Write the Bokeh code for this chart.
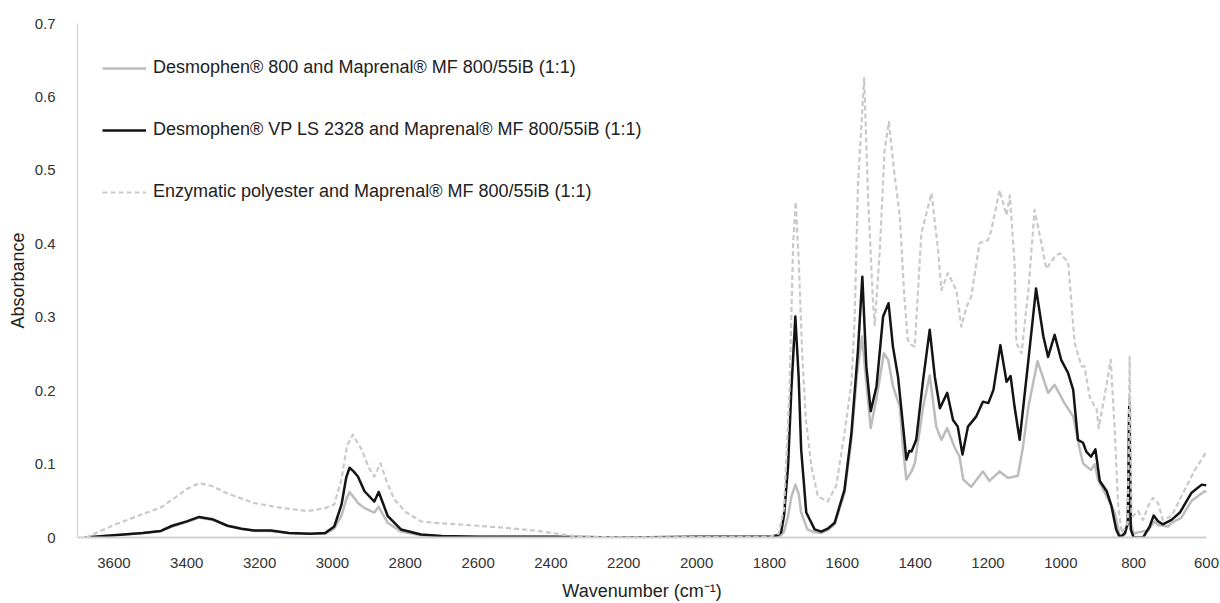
from bokeh.plotting import figure
from bokeh.models import Range1d, FixedTicker, CustomJSTickFormatter, Legend, LegendItem
from bokeh.embed import file_html
from bokeh.resources import INLINE

# ---- data ----
wn_d800 = [3680, 3600, 3520, 3471, 3440, 3400, 3366, 3330, 3288, 3250, 3215, 3169, 3120, 3060, 3020,
           2995, 2975, 2962, 2953, 2942, 2930, 2912, 2885, 2873, 2860, 2848, 2812, 2757, 2700, 2400, 2200, 1800,
           1770, 1760, 1749, 1740, 1729, 1720, 1713, 1696, 1676, 1658, 1640, 1621, 1594, 1575, 1560,
           1546, 1534, 1522, 1506, 1486, 1474, 1461, 1442, 1433, 1424, 1410, 1401, 1378, 1360, 1342,
           1328, 1312, 1291, 1278, 1268, 1246, 1214, 1196, 1168, 1145, 1118, 1105, 1089, 1064, 1035,
           1017, 990, 966, 948, 939, 925, 917, 907, 898, 874, 852, 840, 834, 824, 816, 812, 808, 800,
           788, 760, 743, 733, 705, 696, 669, 641, 605, 600]
abs_d800 = [0.0, 0.003, 0.006, 0.009, 0.015, 0.021, 0.027, 0.024, 0.016, 0.012, 0.009, 0.009, 0.006, 0.005, 0.005,
            0.012, 0.030, 0.052, 0.062, 0.055, 0.047, 0.040, 0.034, 0.042, 0.030, 0.020, 0.008, 0.003, 0.001, 0.001, 0.0, 0.001,
            0.002, 0.008, 0.029, 0.055, 0.072, 0.060, 0.034, 0.011, 0.007, 0.006, 0.010, 0.018, 0.061, 0.133, 0.220,
            0.274, 0.210, 0.149, 0.190, 0.251, 0.242, 0.206, 0.178, 0.120, 0.079, 0.090, 0.101, 0.178, 0.221, 0.151,
            0.133, 0.149, 0.122, 0.110, 0.079, 0.069, 0.090, 0.077, 0.090, 0.081, 0.084, 0.120, 0.178, 0.240, 0.197,
            0.208, 0.183, 0.165, 0.120, 0.101, 0.095, 0.092, 0.100, 0.079, 0.056, 0.034, 0.006, 0.0, 0.004, 0.020, 0.190, 0.020, 0.005,
            0.007, 0.010, 0.022, 0.017, 0.015, 0.020, 0.027, 0.050, 0.063, 0.062]

wn_vp = [3680, 3600, 3520, 3471, 3440, 3400, 3366, 3330, 3288, 3250, 3215, 3169, 3120, 3060, 3020,
         2995, 2975, 2962, 2953, 2942, 2930, 2912, 2885, 2873, 2860, 2848, 2812, 2757, 2700, 2600, 2400, 2200, 2000,
         1800, 1777, 1768, 1760, 1749, 1740, 1729, 1720, 1713, 1699, 1676, 1658, 1640, 1621, 1594, 1575,
         1557, 1545, 1534, 1522, 1506, 1488, 1473, 1461, 1447, 1433, 1424, 1416, 1410, 1397, 1378, 1360,
         1346, 1332, 1312, 1296, 1283, 1270, 1255, 1232, 1214, 1199, 1185, 1166, 1149, 1138, 1127, 1113,
         1089, 1068, 1048, 1035, 1017, 999, 980, 966, 953, 939, 930, 917, 905, 893, 874, 861, 848, 838,
         824, 816, 812, 808, 800, 774, 756, 745, 733, 720, 696, 673, 641, 613, 600]
abs_vp = [0.0, 0.003, 0.006, 0.009, 0.016, 0.022, 0.028, 0.025, 0.016, 0.012, 0.0095, 0.0095, 0.006, 0.005, 0.006,
          0.015, 0.045, 0.082, 0.095, 0.090, 0.083, 0.063, 0.049, 0.062, 0.045, 0.029, 0.011, 0.004, 0.002, 0.001, 0.001, 0.0, 0.001,
          0.001, 0.003, 0.007, 0.030, 0.097, 0.200, 0.301, 0.220, 0.120, 0.034, 0.011, 0.008, 0.012, 0.020, 0.065, 0.142,
          0.255, 0.355, 0.233, 0.172, 0.206, 0.301, 0.319, 0.260, 0.219, 0.151, 0.106, 0.118, 0.117, 0.133, 0.215, 0.283,
          0.219, 0.176, 0.197, 0.160, 0.151, 0.113, 0.151, 0.165, 0.185, 0.183, 0.201, 0.262, 0.212, 0.220, 0.178, 0.133,
          0.242, 0.339, 0.274, 0.246, 0.276, 0.242, 0.224, 0.201, 0.133, 0.129, 0.117, 0.110, 0.120, 0.077, 0.063, 0.043, 0.011, 0.0,
          0.006, 0.020, 0.183, 0.011, 0.0, 0.0, 0.015, 0.030, 0.022, 0.018, 0.024, 0.034, 0.061, 0.072, 0.071]

wn_enz = [3677, 3600, 3520, 3471, 3430, 3400, 3366, 3330, 3288, 3250, 3215, 3150, 3068, 3020, 2995,
          2975, 2960, 2944, 2920, 2900, 2885, 2868, 2850, 2830, 2800, 2757, 2721, 2660, 2601, 2520, 2446,
          2380, 2336, 2300, 2200, 1800, 1775, 1760, 1745, 1735, 1728, 1720, 1710, 1700, 1685, 1667, 1640,
          1617, 1594, 1575, 1566, 1557, 1540, 1529, 1516, 1511, 1497, 1484, 1472, 1458, 1442, 1430, 1420,
          1410, 1401, 1383, 1355, 1337, 1328, 1310, 1287, 1273, 1259, 1246, 1232, 1223, 1200, 1191, 1168,
          1149, 1140, 1127, 1122, 1108, 1089, 1072, 1053, 1040, 1017, 1003, 980, 962, 943, 935, 921, 907,
          902, 896, 880, 863, 852, 843, 833, 816, 811, 806, 802, 788, 774, 760, 747, 733, 720, 696, 669,
          632, 600]
abs_enz = [0.0, 0.017, 0.032, 0.041, 0.055, 0.066, 0.074, 0.070, 0.060, 0.053, 0.047, 0.041, 0.036, 0.040, 0.045,
           0.080, 0.125, 0.140, 0.120, 0.095, 0.083, 0.101, 0.075, 0.052, 0.035, 0.022, 0.020, 0.018, 0.016, 0.013, 0.0095,
           0.005, 0.002, 0.001, 0.0, 0.001, 0.005, 0.040, 0.200, 0.400, 0.457, 0.380, 0.250, 0.160, 0.097, 0.056, 0.049,
           0.070, 0.142, 0.210, 0.300, 0.480, 0.626, 0.459, 0.323, 0.289, 0.391, 0.527, 0.566, 0.500, 0.437, 0.330, 0.269,
           0.262, 0.260, 0.414, 0.469, 0.391, 0.337, 0.360, 0.337, 0.287, 0.314, 0.328, 0.373, 0.401, 0.405, 0.418, 0.473,
           0.439, 0.466, 0.373, 0.265, 0.251, 0.337, 0.446, 0.400, 0.366, 0.382, 0.387, 0.375, 0.265, 0.233, 0.233, 0.192, 0.178,
           0.176, 0.149, 0.192, 0.242, 0.147, 0.047, 0.006, 0.020, 0.246, 0.030, 0.029, 0.036, 0.024, 0.043, 0.054, 0.047, 0.024, 0.029, 0.056,
           0.092, 0.117]

x_ticks = [3600, 3400, 3200, 3000, 2800, 2600, 2400, 2200, 2000, 1800, 1600, 1400, 1200, 1000, 800, 600]
y_ticks = [0, 0.1, 0.2, 0.3, 0.4, 0.5, 0.6, 0.7]
labels = ["Desmophen® 800 and Maprenal® MF 800/55iB (1:1)",
          "Desmophen® VP LS 2328 and Maprenal® MF 800/55iB (1:1)",
          "Enzymatic polyester and Maprenal® MF 800/55iB (1:1)"]

FONT = "Liberation Sans"

p = figure(width=1220, height=603, x_range=Range1d(3700, 600), y_range=Range1d(0, 0.7),
           output_backend="svg", toolbar_location=None,
           min_border_left=77, min_border_right=14, min_border_top=23, min_border_bottom=65)
p.outline_line_color = None
p.grid.visible = False
p.background_fill_color = "white"
p.border_fill_color = "white"

r_gray = p.line(wn_d800, abs_d800, line_color="#bcbcbc", line_width=2.5, line_join="round")
r_black = p.line(wn_vp, abs_vp, line_color="#141414", line_width=2.5, line_join="round")
r_dash = p.line(wn_enz, abs_enz, line_color="#c9c9c9", line_width=2.2, line_dash="5 3", line_join="round")

# axes
p.xaxis.ticker = FixedTicker(ticks=x_ticks)
p.yaxis.ticker = FixedTicker(ticks=y_ticks)
p.yaxis.formatter = CustomJSTickFormatter(code="return tick == 0 ? '0' : tick.toFixed(1);")
for ax in (p.xaxis[0], p.yaxis[0]):
    ax.major_tick_line_color = None
    ax.minor_tick_line_color = None
    ax.major_label_text_font = FONT
    ax.major_label_text_font_size = "15px"
    ax.major_label_text_color = "#333333"
    ax.axis_label_text_font = FONT
    ax.axis_label_text_font_size = "18px"
    ax.axis_label_text_font_style = "normal"
    ax.axis_label_text_color = "#222222"
p.xaxis.axis_line_color = "#d0d0d0"
p.xaxis.axis_line_width = 2
p.yaxis.axis_line_color = "#cfcfcf"
p.yaxis.axis_line_width = 1
p.xaxis.major_label_standoff = 14
p.yaxis.major_label_standoff = 16
p.xaxis.axis_label = "Wavenumber (cm⁻¹)"
p.yaxis.axis_label = "Absorbance"
p.xaxis.axis_label_standoff = 10
p.yaxis.axis_label_standoff = 4

legend = Legend(items=[LegendItem(label=labels[0], renderers=[r_gray]),
                       LegendItem(label=labels[1], renderers=[r_black]),
                       LegendItem(label=labels[2], renderers=[r_dash])],
                location=(25, 335), padding=0, margin=0, spacing=41,
                glyph_width=44, glyph_height=20, label_height=20, label_standoff=7,
                label_text_font=FONT, label_text_font_size="18px", label_text_color="#222222",
                border_line_color=None, background_fill_alpha=0)
p.add_layout(legend, "center")

open("out.html", "w").write(file_html(p, INLINE))
